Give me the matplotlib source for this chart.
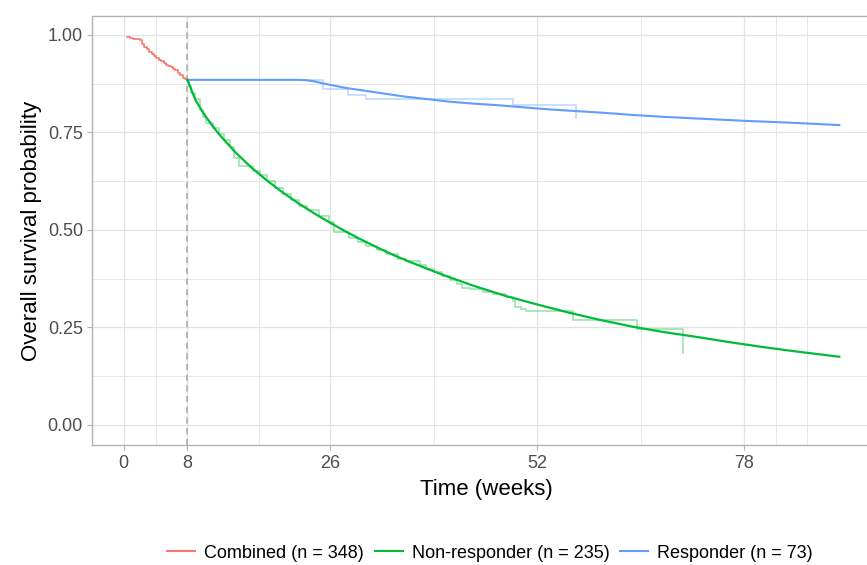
import matplotlib
matplotlib.use("Agg")
import matplotlib.pyplot as plt
from matplotlib.lines import Line2D

plt.rcParams['font.family'] = ['Liberation Sans', 'DejaVu Sans']

# Kaplan-Meier estimate for all patients up to the 8-week landmark
combined_weeks = [0.45, 0.8, 1.2, 1.6, 2.0, 2.3, 2.6, 2.9, 3.2, 3.5, 3.8, 4.1, 4.4,
                  4.7, 5.0, 5.3, 5.6, 5.9, 6.2, 6.5, 6.8, 7.1, 7.4, 7.7, 8.0]
combined_surv = [0.996, 0.993, 0.991, 0.989, 0.986, 0.978, 0.970, 0.963, 0.957, 0.952,
                 0.946, 0.941, 0.937, 0.933, 0.928, 0.924, 0.920, 0.917, 0.914, 0.909,
                 0.903, 0.897, 0.891, 0.887, 0.885]

# Non-responders after the landmark: Kaplan-Meier steps
nonresp_km_weeks = [8.0, 8.2, 8.5, 9.0, 9.6, 10.0, 10.4, 11.2, 12.0, 12.6, 13.3, 13.9,
                    14.5, 16.3, 17.1, 18.0, 19.0, 20.0, 21.0, 22.0, 23.0, 24.5, 25.8,
                    26.5, 28.3, 29.5, 30.5, 31.8, 33.0, 34.5, 35.5, 37.2, 38.0, 39.0,
                    40.0, 41.0, 41.9, 42.5, 43.5, 45.2, 46.5, 48.1, 49.0, 49.2, 50.0,
                    50.6, 56.5, 64.5, 70.3]
nonresp_km_surv = [0.885, 0.870, 0.852, 0.835, 0.808, 0.790, 0.775, 0.762, 0.745, 0.730,
                   0.712, 0.685, 0.663, 0.652, 0.640, 0.625, 0.608, 0.592, 0.576, 0.562,
                   0.551, 0.537, 0.520, 0.495, 0.480, 0.470, 0.460, 0.449, 0.438, 0.425,
                   0.421, 0.410, 0.400, 0.392, 0.382, 0.372, 0.362, 0.352, 0.348, 0.342,
                   0.336, 0.329, 0.318, 0.303, 0.298, 0.292, 0.269, 0.246, 0.185]

# Non-responders: fitted survival curve
nonresp_fit_weeks = [8, 9, 10, 11, 12, 14, 16, 18, 20, 22, 24, 26, 28, 30, 32, 34, 36,
                     40, 44, 48, 52, 56, 60, 64, 68, 72, 76, 80, 84, 88, 90]
nonresp_fit_surv = [0.885, 0.834, 0.800, 0.771, 0.745, 0.700, 0.661, 0.627, 0.596, 0.568,
                    0.542, 0.518, 0.495, 0.474, 0.454, 0.435, 0.418, 0.386, 0.357, 0.331,
                    0.309, 0.288, 0.269, 0.252, 0.238, 0.226, 0.213, 0.201, 0.190, 0.180,
                    0.175]

# Responders after the landmark: Kaplan-Meier steps
resp_km_weeks = [8.0, 25.1, 28.2, 30.5, 49.0, 56.9]
resp_km_surv = [0.885, 0.861, 0.846, 0.835, 0.821, 0.786]

# Responders: fitted survival curve
resp_fit_weeks = [8, 12, 16, 20, 22, 23, 24, 25, 26, 28, 30, 32, 35, 38, 41, 44, 47, 50,
                  53, 56, 60, 64, 68, 72, 78, 84, 90]
resp_fit_surv = [0.885, 0.885, 0.885, 0.885, 0.885, 0.884, 0.881, 0.876, 0.872, 0.864,
                 0.858, 0.852, 0.843, 0.836, 0.829, 0.824, 0.820, 0.815, 0.810, 0.806,
                 0.801, 0.795, 0.790, 0.786, 0.780, 0.775, 0.769]

landmark_week = 8
x_breaks = [0, 8, 26, 52, 78]
x_minor = [4, 17, 39, 65, 82, 86]
y_breaks = [0.0, 0.25, 0.5, 0.75, 1.0]
y_minor = [0.125, 0.375, 0.625, 0.875]
y_labels = ["0.00", "0.25", "0.50", "0.75", "1.00"]

legend_labels = ["Combined (n = 348)", "Non-responder (n = 235)", "Responder (n = 73)"]
col_comb = "#F8766D"
col_non = "#00BA38"
col_resp = "#619CFF"

W, H = 867, 565
fig = plt.figure(figsize=(W / 100, H / 100), dpi=100)
ax = fig.add_axes([92 / W, (H - 445) / H, (880 - 92) / W, 429 / H])

ax.set_xlim(-4.0, 95.12)
ax.set_ylim(-0.0513, 1.0487)

grid_col = "#E3E3E3"
for xv in x_minor:
    ax.axvline(xv, color=grid_col, lw=0.6, zorder=0)
for yv in y_minor:
    ax.axhline(yv, color=grid_col, lw=0.6, zorder=0)
for xv in x_breaks:
    ax.axvline(xv, color=grid_col, lw=0.9, zorder=0)
for yv in y_breaks:
    ax.axhline(yv, color=grid_col, lw=0.9, zorder=0)

ax.axvline(landmark_week, color="#A6A6A6", lw=1.1, dashes=(4, 3), zorder=1)

ax.plot(resp_km_weeks, resp_km_surv, drawstyle="steps-post", color=col_resp,
        lw=1.2, alpha=0.4, zorder=2)
ax.plot(nonresp_km_weeks, nonresp_km_surv, drawstyle="steps-post", color=col_non,
        lw=1.2, alpha=0.4, zorder=2)
ax.plot(combined_weeks, combined_surv, drawstyle="steps-post", color=col_comb,
        lw=1.2, zorder=3)
ax.plot(resp_fit_weeks, resp_fit_surv, color=col_resp, lw=1.5, zorder=4)
ax.plot(nonresp_fit_weeks, nonresp_fit_surv, color=col_non, lw=1.6, zorder=4)

ax.set_xticks(x_breaks)
ax.set_xticklabels([str(v) for v in x_breaks])
ax.set_yticks(y_breaks)
ax.set_yticklabels(y_labels)
ax.tick_params(axis="both", colors="#B3B3B3", labelcolor="#4D4D4D", labelsize=13,
               length=3.5, width=0.8)
ax.tick_params(axis="x", pad=4)
ax.tick_params(axis="y", pad=3)

for side in ["top", "left", "bottom", "right"]:
    ax.spines[side].set_color("#B3B3B3")
    ax.spines[side].set_linewidth(1.0)

ax.set_xlabel("Time (weeks)", fontsize=16, color="black", labelpad=5)
ax.set_ylabel("Overall survival probability", fontsize=16, color="black", labelpad=4)

handles = [Line2D([], [], color=c, lw=1.5) for c in (col_comb, col_non, col_resp)]
fig.legend(handles, legend_labels, loc="center", bbox_to_anchor=(490 / W, 1 - 553 / H),
           ncol=3, frameon=False, fontsize=13, handlelength=1.55, handletextpad=0.5,
           columnspacing=0.6)

fig.savefig("out.png", dpi=100)
